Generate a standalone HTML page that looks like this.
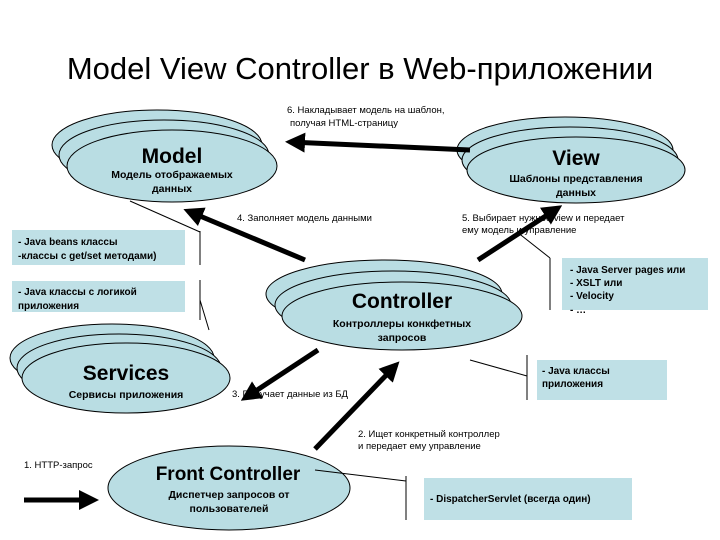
<!DOCTYPE html>
<html><head><meta charset="utf-8"><style>
html,body{margin:0;padding:0;background:#fff}
svg{display:block}
text{font-family:"Liberation Sans","DejaVu Sans",sans-serif}
</style></head><body>
<svg width="720" height="540" viewBox="0 0 720 540" xmlns="http://www.w3.org/2000/svg">
<defs>
<marker id="ah" markerWidth="4" markerHeight="4" refX="3" refY="2" orient="auto" markerUnits="strokeWidth">
<path d="M0,0 L4,2 L0,4 z" fill="#000"/></marker>
</defs>
<g fill="#b9dde3" stroke="#000" stroke-width="1">
<ellipse cx="157" cy="145" rx="105" ry="35"/>
<ellipse cx="164" cy="155" rx="105" ry="35"/>
<ellipse cx="172" cy="166" rx="105" ry="36"/>
<ellipse cx="565" cy="150" rx="108" ry="33"/>
<ellipse cx="570" cy="160" rx="108" ry="33"/>
<ellipse cx="576" cy="170" rx="109" ry="33"/>
<ellipse cx="384" cy="294" rx="118" ry="34"/>
<ellipse cx="393" cy="305" rx="118" ry="34"/>
<ellipse cx="402" cy="316" rx="120" ry="34"/>
<ellipse cx="112" cy="358" rx="102" ry="34"/>
<ellipse cx="119" cy="368" rx="102" ry="34"/>
<ellipse cx="126" cy="378" rx="104" ry="35"/>
<ellipse cx="229" cy="488" rx="121" ry="42"/>
</g>
<g fill="#bfe0e6">
<rect x="12" y="230" width="173" height="35"/>
<rect x="12" y="281" width="173" height="31"/>
<rect x="562" y="258" width="146" height="52"/>
<rect x="537" y="360" width="130" height="40"/>
<rect x="424" y="478" width="208" height="42"/>
</g>
<g stroke="#000" stroke-width="1" fill="none">
<path d="M130,201 L200,232 M200,231 V265 M200,280 V320 M200,300 L209,330"/>
<path d="M517,232 L550,258 M550,258 V310"/>
<path d="M470,360 L527,376 M527,355 V400"/>
<path d="M315,470 L406,481 M406,476 V520"/>
</g>
<g stroke="#000" stroke-width="5" fill="none" marker-end="url(#ah)">
<line x1="470" y1="150" x2="290" y2="142"/>
<line x1="305" y1="260" x2="188" y2="211"/>
<line x1="478" y1="260" x2="558" y2="208"/>
<line x1="318" y1="350" x2="245" y2="398"/>
<line x1="315" y1="449" x2="396" y2="365"/>
<line x1="24" y1="500" x2="94" y2="500"/>
</g>
<text x="360" y="79" font-size="31" text-anchor="middle">Model View Controller в Web-приложении</text>
<g font-size="21" font-weight="bold" text-anchor="middle">
<text x="172" y="163">Model</text>
<text x="576" y="165">View</text>
<text x="402" y="308">Controller</text>
<text x="126" y="380">Services</text>
<text x="228" y="480" font-size="19">Front Controller</text>
</g>
<g font-size="10.5" font-weight="bold" text-anchor="middle">
<text x="172" y="178">Модель отображаемых</text><text x="172" y="192">данных</text>
<text x="576" y="182">Шаблоны представления</text><text x="576" y="196">данных</text>
<text x="402" y="327">Контроллеры конкфетных</text><text x="402" y="341">запросов</text>
<text x="126" y="398">Сервисы приложения</text>
<text x="229" y="498">Диспетчер запросов  от</text><text x="229" y="512">пользователей</text>
</g>
<g font-size="10" font-weight="bold">
<text x="18" y="245">- Java beans классы</text><text x="18" y="259">-классы с get/set методами)</text>
<text x="18" y="295">- Java классы  с логикой</text><text x="18" y="309">приложения</text>
<text x="570" y="273">- Java Server pages или</text>
<text x="570" y="286">- XSLT или</text>
<text x="570" y="299">- Velocity</text>
<text x="570" y="313">- …</text>
<text x="542" y="374">- Java классы</text><text x="542" y="387">приложения</text>
<text x="430" y="502">- DispatcherServlet (всегда один)</text>
</g>
<g font-size="9.5">
<text x="287" y="113">6. Накладывает модель на шаблон,</text>
<text x="290" y="126">получая HTML-страницу</text>
<text x="237" y="221">4. Заполняет модель данными</text>
<text x="462" y="221">5. Выбирает нужное view и передает</text>
<text x="462" y="233">ему модель и управление</text>
<text x="232" y="397">3. Получает данные из БД</text>
<text x="358" y="437">2. Ищет конкретный контроллер</text>
<text x="358" y="449">и передает ему управление</text>
<text x="24" y="468">1. HTTP-запрос</text>
</g>
</svg>
</body></html>
